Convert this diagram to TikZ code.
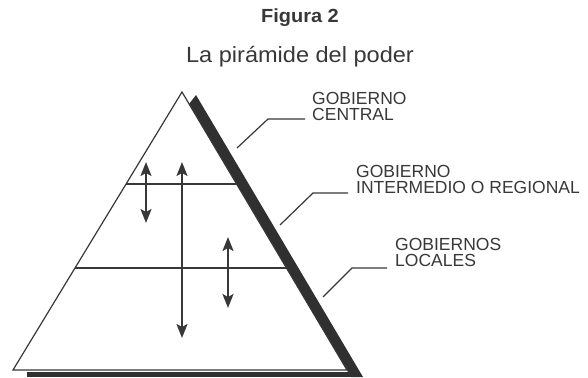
\documentclass[tikz,border=0pt]{standalone}
\usepackage{fontspec}
\setmainfont{Liberation Sans}
\usetikzlibrary{arrows.meta,calc}
\definecolor{ink}{HTML}{383838}
\definecolor{bandc}{HTML}{303030}
\begin{document}
\begin{tikzpicture}[x=1pt,y=-1pt,
  edge/.style={draw=ink,line width=1.2pt,line join=miter},
  dbl/.style={draw=ink,line width=1.6pt,{Stealth[length=14pt,width=11pt,inset=3pt]}-{Stealth[length=14pt,width=11pt,inset=3pt]}},
  leader/.style={draw=ink,line width=1.2pt},
  lbl/.style={anchor=north west,inner sep=0pt,align=left,text=ink,font=\fontsize{17.5}{16.5}\selectfont},
  ttl/.style={anchor=base,inner sep=0pt,text=ink}]
\useasboundingbox (0,0) rectangle (588,377);
\fill[white] (0,0) rectangle (588,377);
% titles
\node[ttl,font=\fontsize{19}{22}\selectfont\bfseries] (fig) at (300,23) {\scalebox{1.05}[1]{Figura 2}};
\node[ttl,font=\fontsize{22}{26}\selectfont] (sub) at (300,63) {\scalebox{1.07}[1]{La pirámide del poder}};
% pyramid corners
\coordinate (A) at (182,92);
\coordinate (B) at (13,370);
\coordinate (C) at (347,370);
% shadow band (right side) and base shadow
\fill[bandc] (189,104) -- (196,95) -- (363,377) -- (351,377) -- cycle;
\fill[bandc] (27,372) rectangle (352,377);
% pyramid
\draw[edge] (A) -- (B) -- (C) -- cycle;
% level lines
\draw[edge] ($(A)!0.331!(B)$) -- ($(A)!0.331!(C)$);
\draw[edge] ($(A)!0.633!(B)$) -- ($(A)!0.633!(C)$);
% arrows
\coordinate (a1t) at (146,162); \coordinate (a1b) at (146,223);
\coordinate (a2t) at (182,162); \coordinate (a2b) at (182,338);
\coordinate (a3t) at (228,237); \coordinate (a3b) at (228,308);
\draw[dbl] (a1t) -- (a1b);
\draw[dbl] (a2t) -- (a2b);
\draw[dbl] (a3t) -- (a3b);
% labels
\node[lbl] (cen) at (312,92) {GOBIERNO\\CENTRAL};
\node[lbl] (reg) at (356,165) {GOBIERNO\\INTERMEDIO O REGIONAL};
\node[lbl] (loc) at (395,238) {GOBIERNOS\\LOCALES};
% leaders
\coordinate (l1) at (237,148);
\coordinate (l2) at (280,225);
\coordinate (l3) at (323,297);
\draw[leader] (l1) -- ++(31,-29) -- ($(cen.north west)+(-7,27)$);
\draw[leader] (l2) -- ++(33,-32) -- ($(reg.north west)+(-8,28)$);
\draw[leader] (l3) -- ++(29,-29) -- ($(loc.north west)+(-8,30)$);
\end{tikzpicture}
\end{document}
